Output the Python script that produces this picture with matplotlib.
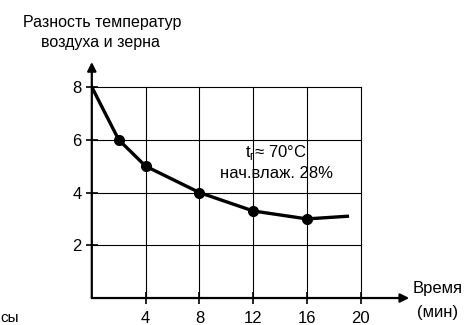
import matplotlib
matplotlib.use("Agg")
import matplotlib.pyplot as plt

plt.rcParams["font.family"] = ["Liberation Sans", "DejaVu Sans"]
plt.rcParams["mathtext.fontset"] = "custom"
plt.rcParams["mathtext.rm"] = "Liberation Sans"

# кривая разности температур воздуха и зерна
time_min = [0, 2, 4, 8, 12, 16, 19]
temp_diff = [8, 6, 5, 4, 3.3, 3.0, 3.1]
marked = [False, True, True, True, True, True, False]

x_ticks = [4, 8, 12, 16, 20]
y_ticks = [2, 4, 6, 8]

fig = plt.figure(figsize=(4.66, 3.25), dpi=100)
ax = fig.add_axes([0.197, 0.083, 0.6927, 0.7466])
ax.set_xlim(0, 24)
ax.set_ylim(0, 9.2)
for s in ax.spines.values():
    s.set_visible(False)

# сетка
for xv in x_ticks:
    ax.plot([xv, xv], [0, y_ticks[-1]], color="black", lw=0.8, zorder=1)
for yv in y_ticks:
    ax.plot([0, x_ticks[-1]], [yv, yv], color="black", lw=0.8, zorder=1)

# оси со стрелками
ax.annotate("", xy=(23.6, 0), xytext=(0, 0),
            arrowprops=dict(arrowstyle="-|>", color="black", lw=1.6,
                            mutation_scale=13, shrinkA=0, shrinkB=0),
            annotation_clip=False)
ax.annotate("", xy=(0, 8.95), xytext=(0, 0),
            arrowprops=dict(arrowstyle="-|>", color="black", lw=1.6,
                            mutation_scale=13, shrinkA=0, shrinkB=0),
            annotation_clip=False)

ax.plot(time_min, temp_diff, color="black", lw=2.4, zorder=3)
mx = [t for t, m in zip(time_min, marked) if m]
my = [d for d, m in zip(temp_diff, marked) if m]
ax.plot(mx, my, "o", color="black", ms=7, zorder=4)

ax.set_xticks(x_ticks)
ax.set_yticks(y_ticks)
ax.tick_params(direction="inout", length=9, width=1.2, labelsize=12, pad=3)
ax.tick_params(axis="x", pad=5)

ax.text(13.7, 5.52, r"t$_{\mathregular{г}}$≈ 70°C", fontsize=12,
        ha="center", va="center", zorder=5)
ax.text(13.7, 4.72, "нач.влаж. 28%", fontsize=12,
        ha="center", va="center", zorder=5)

fig.text(0.219, 1 - 22 / 325, "Разность температур", fontsize=11.5,
         ha="center", va="center")
fig.text(0.215, 1 - 43 / 325, "воздуха и зерна", fontsize=11.5,
         ha="center", va="center")
fig.text(0.94, 1 - 289 / 325, "Время", fontsize=12, ha="center", va="center")
fig.text(0.94, 1 - 312 / 325, "(мин)", fontsize=12, ha="center", va="center")
fig.text(0.0, 1 - 318 / 325, "сы", fontsize=11, ha="left", va="center")

fig.savefig("out.png", dpi=100)
